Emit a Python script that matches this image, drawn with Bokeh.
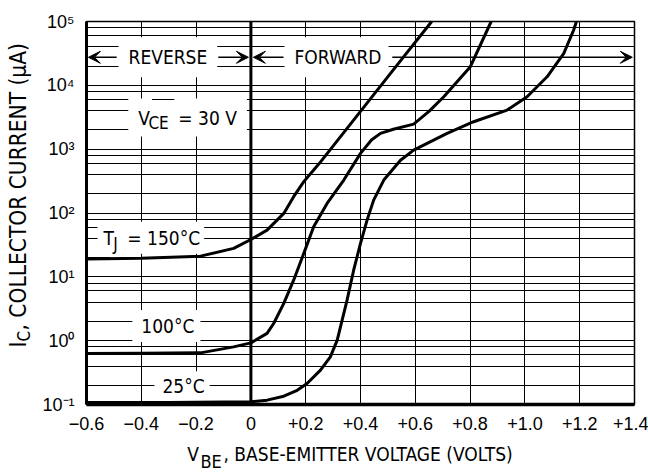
import math
from bokeh.plotting import figure
from bokeh.layouts import row, column
from bokeh.models import Range1d, FixedTicker, Label, Arrow, VeeHead, Span
from bokeh.embed import file_html
from bokeh.resources import INLINE

# ---------------- data ----------------
vbe_150 = [-0.6, -0.4, -0.184, -0.063, 0.0, 0.059, 0.12, 0.156, 0.193, 0.25, 0.4, 0.55, 0.66]
ic_150 = [19, 19.5, 21.1, 27.9, 38.5, 54, 98.6, 180, 310, 600, 3900, 25500, 100000]

vbe_100 = [-0.6, -0.4, -0.184, -0.063, 0.0, 0.059, 0.083, 0.12, 0.156, 0.193, 0.229, 0.278,
           0.339, 0.4, 0.44, 0.473, 0.52, 0.594, 0.65, 0.704, 0.801, 0.877]
ic_100 = [0.63, 0.635, 0.644, 0.80, 0.924, 1.30, 1.86, 3.83, 8.87, 23.3, 60.8, 141,
          328, 859, 1390, 1770, 2050, 2470, 3900, 6620, 19600, 100000]

vbe_25 = [-0.6, -0.3, 0.0, 0.059, 0.12, 0.169, 0.205, 0.254, 0.29, 0.315, 0.333, 0.351,
          0.375, 0.4, 0.424, 0.448, 0.485, 0.546, 0.594, 0.716, 0.813, 0.935, 1.008, 1.081,
          1.142, 1.178, 1.188]
ic_25 = [0.107, 0.107, 0.11, 0.117, 0.135, 0.167, 0.213, 0.345, 0.557, 1.02, 2.09, 4.31,
         12.7, 33.4, 77.4, 159, 328, 670, 968, 1770, 2690, 4100, 6620, 13600,
         31700, 73600, 100000]

x_ticks = [-0.6, -0.4, -0.2, 0.0, 0.2, 0.4, 0.6, 0.8, 1.0, 1.2, 1.4]
x_tick_labels = ["\u22120.6", "\u22120.4", "\u22120.2", "0", "+0.2", "+0.4", "+0.6",
                 "+0.8", "+1.0", "+1.2", "+1.4"]
y_ticks = [0.1, 1, 10, 100, 1000, 10000, 100000]
y_tick_labels = ["10\u207b\u00b9", "10\u2070", "10\u00b9", "10\u00b2", "10\u00b3",
                 "10\u2074", "10\u2075"]
y_grid_mult = [1, 2, 4, 6, 8]

TICK_FONT = "Liberation Sans"
FONT = "DejaVu Sans Condensed, Liberation Sans, sans-serif"

# ---------------- main chart ----------------
p = figure(width=614, height=436, x_range=Range1d(-0.6, 1.4), y_range=Range1d(0.1, 1e5),
           y_axis_type="log", output_backend="svg", toolbar_location=None,
           min_border_left=52, min_border_right=14, min_border_top=21, min_border_bottom=32)
p.background_fill_color = "white"
p.border_fill_color = "white"
p.outline_line_color = "black"
p.outline_line_width = 1.5

p.xaxis.ticker = FixedTicker(ticks=x_ticks)
p.xaxis.major_label_overrides = dict(zip(x_ticks, x_tick_labels))
p.yaxis.ticker = FixedTicker(ticks=y_ticks)
p.yaxis.major_label_overrides = {(int(t) if t >= 1 else t): s for t, s in zip(y_ticks, y_tick_labels)}
for ax in (p.xaxis[0], p.yaxis[0]):
    ax.major_tick_line_color = None
    ax.minor_tick_line_color = None
    ax.axis_line_color = "black"
    ax.major_label_text_font = TICK_FONT
    ax.major_label_text_font_size = "18px"
    ax.major_label_text_color = "black"
p.xaxis.axis_line_width = 3.5
p.yaxis.axis_line_width = 3
p.xaxis.major_label_standoff = 6
p.yaxis.major_label_standoff = 6

p.xgrid.ticker = FixedTicker(ticks=x_ticks)
p.ygrid.ticker = FixedTicker(ticks=[m * 10 ** e for e in range(-1, 5) for m in y_grid_mult] + [100000])
for g in (p.xgrid[0], p.ygrid[0]):
    g.grid_line_color = "black"
    g.grid_line_width = 1
    g.grid_line_alpha = 1

p.add_layout(Span(location=0, dimension="height", line_color="black", line_width=3))

# curves drawn above the white label boxes
for xs, ys in ((vbe_150, ic_150), (vbe_100, ic_100), (vbe_25, ic_25)):
    p.line(xs, ys, line_color="black", line_width=3, line_join="round", level="overlay")

_pending_text = []


def lab(fig, text, x, y, size=19, align="left", angle=0.0, bg=True, pad=(0, 0, 0)):
    """pad = (left, right, vertical); white boxes are drawn first, all texts after them."""
    common = dict(x=x, y=y, text=text, text_font=FONT, text_font_size=f"{size}px",
                  text_align=align, text_baseline="middle", angle=angle)
    if bg:
        pl, pr, pv = pad
        xo = -pl if align == "left" else (-(pl - pr) / 2 if align == "center" else pr)
        fig.add_layout(Label(text_color="white", background_fill_color="white",
                             padding=dict(left=pl, right=pr, top=pv, bottom=pv),
                             x_offset=xo, **common))
    _pending_text.append((fig, common))


def flush_text():
    for fig, common in _pending_text:
        fig.add_layout(Label(text_color="black", **common))
    _pending_text.clear()


arrow_y = 2.75e4
lab(p, "REVERSE", -0.303, arrow_y, align="center", pad=(10, 10, 9))
lab(p, "FORWARD", 0.318, arrow_y, align="center", pad=(10, 7, 9))
for xs, xe in ((-0.49, -0.593), (-0.119, -0.009), (0.119, 0.009), (0.516, 1.392)):
    p.add_layout(Arrow(end=VeeHead(size=12, fill_color="black", line_color="black"),
                       x_start=xs, y_start=arrow_y, x_end=xe, y_end=arrow_y,
                       line_color="black", line_width=1.5))

lab(p, "V", -0.411, 3130, pad=(10, 2, 8))
lab(p, "CE", -0.374, 2610, size=17, pad=(2, 8, 5))
lab(p, "= 30 V", -0.265, 3130, pad=(4, 10, 8))

lab(p, "T", -0.538, 41.1, pad=(6, 3, 5))
lab(p, "J", -0.502, 33.1, size=17, pad=(3, 10, 8))
lab(p, "= 150\u00b0C", -0.451, 41.1, pad=(4, 4, 5))
lab(p, "100\u00b0C", -0.303, 1.69, align="center", pad=(9, 6, 5))
lab(p, "25\u00b0C", -0.246, 0.194, align="center", pad=(8, 5, 4))


def text_panel(w, h, x_range, y_range):
    f = figure(width=w, height=h, x_range=x_range, y_range=y_range,
               output_backend="svg", toolbar_location=None, min_border=0,
               x_axis_location=None, y_axis_location=None)
    f.outline_line_color = None
    f.grid.visible = False
    f.background_fill_color = "white"
    f.border_fill_color = "white"
    return f


# x-axis title panel (below the chart, frame aligned with the chart's frame)
xt = text_panel(614, 36, p.x_range, Range1d(36, 0))
lab(xt, "V", -0.232, 17, bg=False)
lab(xt, "BE", -0.184, 24.5, size=18, bg=False)
lab(xt, ", BASE-EMITTER VOLTAGE (VOLTS)", -0.1, 17, bg=False)

# y-axis title panel (left of the chart)
yt = text_panel(34, 472, Range1d(0, 34), Range1d(472, 0))
lab(yt, "I", 17.5, 347, size=22.5, angle=math.pi / 2, bg=False)
lab(yt, "C", 23, 341, size=17, angle=math.pi / 2, bg=False)
lab(yt, ", COLLECTOR CURRENT (\u03bcA)", 17.5, 330, size=22.5, angle=math.pi / 2, bg=False)

flush_text()

layout = row(yt, column(p, xt, spacing=0), spacing=0)
open("out.html", "w").write(file_html(layout, INLINE))
